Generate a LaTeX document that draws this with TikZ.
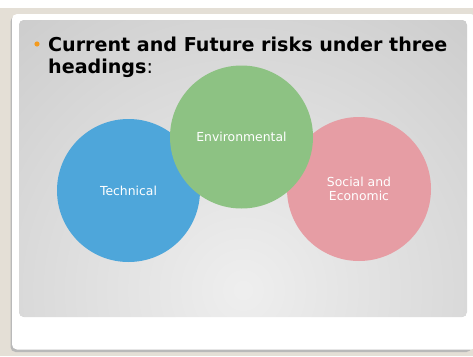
\documentclass[tikz,border=0pt]{standalone}
\usepackage{fontspec}
\setmainfont{DejaVu Sans}
\begin{document}
\begin{tikzpicture}[x=1pt,y=-1pt,
  disc/.style={circle,minimum size=#1,inner sep=0pt,text=white,font=\fontsize{12.4}{13.5}\selectfont,align=center},
  heading/.style={anchor=base west,inner sep=0pt,font=\fontsize{19.1}{22}\selectfont\bfseries}]
\definecolor{beige}{HTML}{E4DFD6}
\definecolor{techblue}{HTML}{4EA6DA}
\definecolor{envgreen}{HTML}{8DC283}
\definecolor{socpink}{HTML}{E69DA4}
\definecolor{bulletorange}{HTML}{F39A1E}
\useasboundingbox (0,0) rectangle (473,356);
% page backdrop
\fill[white] (0,0) rectangle (473,356);
\fill[beige] (0,8) rectangle (473,356);
% card with its drop shadow
\fill[gray!55,rounded corners=5pt] (10.5,16.5) rectangle (471.5,352);
\fill[white,rounded corners=5pt] (12,14) rectangle (476,349.5);
% slide panel with radial shading
\begin{scope}
  \clip[rounded corners=5pt] (19,20) rectangle (467,317);
  \fill[gray!42] (19,20) rectangle (467,317);
  \shade[inner color=gray!13,outer color=gray!42] (243,290) circle (390);
\end{scope}
% heading
\fill[bulletorange] (37,44) circle (2.6);
\node[heading] (title) at (48,51) {Current and Future risks under three};
\node[heading] (title2) at (48,73) {headings\mdseries:};
% the three discs
\node[disc=143pt,fill=techblue] (tech) at (128.5,190.5) {Technical};
\node[disc=144pt,fill=socpink] (soc) at (359,189) {Social and\\Economic};
\node[disc=143pt,fill=envgreen] (env) at (241.5,137) {Environmental};
\end{tikzpicture}
\end{document}
